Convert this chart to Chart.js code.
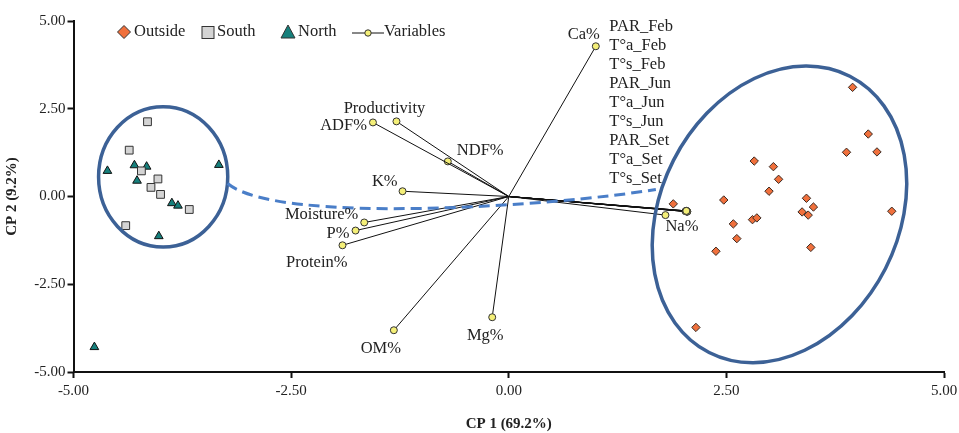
<!DOCTYPE html>
<html>
<head>
<meta charset="utf-8">
<script src="https://cdn.jsdelivr.net/npm/chart.js@4.4.1/dist/chart.umd.min.js"></script>
<style>
  html, body { margin: 0; padding: 0; background: #fff; }
  #wrap { width: 959px; height: 433px; }
</style>
</head>
<body>
<div id="wrap"><canvas id="pca"></canvas></div>
<script>
// scores (CP 1, CP 2)
var outside_x = [3.95, 4.13, 3.88, 4.23, 2.82, 3.04, 3.10, 2.99, 3.42, 3.50, 3.37, 3.44, 4.40, 2.47, 2.58, 2.80, 2.85, 2.62, 2.38, 3.47, 2.15, 1.89];
var outside_y = [3.11, 1.78, 1.26, 1.27, 1.01, 0.85, 0.49, 0.15, -0.05, -0.30, -0.44, -0.53, -0.42, -0.10, -0.78, -0.66, -0.61, -1.20, -1.56, -1.45, -3.73, -0.21];
var south_x = [-4.15, -4.36, -4.22, -4.03, -4.11, -4.00, -3.67, -4.40];
var south_y = [2.13, 1.32, 0.73, 0.50, 0.26, 0.06, -0.37, -0.83];
var north_x = [-4.61, -4.30, -4.16, -4.27, -3.33, -3.87, -3.80, -4.02, -4.76];
var north_y = [0.73, 0.89, 0.85, 0.45, 0.90, -0.19, -0.26, -1.13, -4.29];

// loadings
var var_names = ['Ca%', 'Productivity', 'ADF%', 'NDF%', 'K%', 'Moisture%', 'P%', 'Protein%', 'OM%', 'Mg%', 'Na%',
  'PAR_Feb', 'T°a_Feb', 'T°s_Feb', 'PAR_Jun', 'T°a_Jun', 'T°s_Jun', 'PAR_Set', 'T°a_Set', 'T°s_Set'];
var var_x = [1.00, -1.29, -1.56, -0.70, -1.22, -1.66, -1.76, -1.91, -1.32, -0.19, 1.80,
  2.04, 2.04, 2.05, 2.04, 2.03, 2.05, 2.04, 2.04, 2.05];
var var_y = [4.28, 2.14, 2.11, 1.00, 0.15, -0.74, -0.97, -1.39, -3.81, -3.44, -0.53,
  -0.41, -0.42, -0.43, -0.41, -0.42, -0.43, -0.42, -0.41, -0.43];

var legend_names = ['Outside', 'South', 'North', 'Variables'];
var tick_values = [-5, -2.5, 0, 2.5, 5];

var SERIF = "'Liberation Serif', 'DejaVu Serif', serif";

// label placement for loading names: [dx, dy, align] in px from the endpoint
var label_place = {
  'Ca%': [-12, -12, 'center'], 'Productivity': [-12, -13, 'center'], 'ADF%': [-6, 3, 'right'],
  'NDF%': [9, -11, 'left'], 'K%': [-5, -10, 'right'], 'Moisture%': [-6, -8, 'right'],
  'P%': [-6, 3, 'right'], 'Protein%': [5, 17, 'right'], 'OM%': [-13, 18, 'center'],
  'Mg%': [-7, 18, 'center'], 'Na%': [0, 12, 'left']
};
var climate_names = var_names.slice(11);

function pts(xs, ys) {
  return xs.map(function (v, i) { return {x: v, y: ys[i]}; });
}

var datasets = [];
// loading vectors: one short line per variable, origin to endpoint
for (var i = 0; i < var_names.length; i++) {
  datasets.push({
    label: var_names[i],
    data: [{x: 0, y: 0}, {x: var_x[i], y: var_y[i]}],
    showLine: true,
    borderColor: '#111',
    borderWidth: 1,
    pointRadius: [0, 3.5],
    pointBackgroundColor: '#f4ef78',
    pointBorderColor: '#333',
    pointBorderWidth: 1,
    order: 5
  });
}
datasets.push({
  label: 'Outside', data: pts(outside_x, outside_y), pointStyle: 'rectRot', pointRadius: 4.2,
  backgroundColor: '#f0703c', borderColor: '#3a2a22', borderWidth: 1, order: 1
});
datasets.push({
  label: 'South', data: pts(south_x, south_y), pointStyle: 'rect', pointRadius: 5.5,
  backgroundColor: '#d4d4d4', borderColor: '#333', borderWidth: 1, order: 1
});
datasets.push({
  label: 'North', data: pts(north_x, north_y), pointStyle: 'triangle', pointRadius: 5,
  backgroundColor: '#16807c', borderColor: '#111', borderWidth: 1, order: 1
});

// ellipses and dashed link
var deco = {
  id: 'deco',
  afterDatasetsDraw: function (chart) {
    var ctx = chart.ctx, sx = chart.scales.x, sy = chart.scales.y;
    ctx.save();
    ctx.strokeStyle = '#3c6196';
    ctx.lineWidth = 3.5;
    // left group (South + North)
    var cx = sx.getPixelForValue(-3.97), cy = sy.getPixelForValue(0.56);
    var rx = sx.getPixelForValue(-3.97 + 0.742) - cx, ry = cy - sy.getPixelForValue(0.56 + 2.0);
    ctx.beginPath();
    ctx.ellipse(cx, cy, rx, ry, 0, 0, Math.PI * 2);
    ctx.stroke();
    // right group (Outside)
    ctx.beginPath();
    ctx.ellipse(sx.getPixelForValue(3.11), sy.getPixelForValue(-0.51), 155, 119, -63 * Math.PI / 180, 0, Math.PI * 2);
    ctx.stroke();
    // dashed link
    ctx.strokeStyle = '#4a7ec8';
    ctx.lineWidth = 3;
    ctx.setLineDash([11, 6]);
    ctx.beginPath();
    ctx.moveTo(sx.getPixelForValue(-3.23), sy.getPixelForValue(0.37));
    ctx.bezierCurveTo(sx.getPixelForValue(-2.64), sy.getPixelForValue(-0.83),
      sx.getPixelForValue(0.56), sy.getPixelForValue(-0.26),
      sx.getPixelForValue(1.69), sy.getPixelForValue(0.20));
    ctx.stroke();
    ctx.setLineDash([]);

    // loading labels
    ctx.fillStyle = '#222';
    ctx.font = '16.5px ' + SERIF;
    ctx.textBaseline = 'middle';
    for (var i = 0; i < var_names.length; i++) {
      var p = label_place[var_names[i]];
      if (!p) continue;
      ctx.textAlign = p[2];
      ctx.fillText(var_names[i], sx.getPixelForValue(var_x[i]) + p[0], sy.getPixelForValue(var_y[i]) + p[1]);
    }
    // climate variables share one endpoint, listed as a column
    var ex = sx.getPixelForValue(var_x[11]), ey = sy.getPixelForValue(var_y[11]);
    ctx.textAlign = 'left';
    climate_names.forEach(function (n, k) {
      ctx.fillText(n, ex - 77, ey - 184 + k * 19);
    });

    // legend
    var lx = 124, ly = 32;
    ctx.lineWidth = 1;
    ctx.strokeStyle = '#333';
    // diamond
    ctx.fillStyle = '#f0703c';
    ctx.beginPath();
    ctx.moveTo(lx, ly - 6.5); ctx.lineTo(lx + 6.5, ly); ctx.lineTo(lx, ly + 6.5); ctx.lineTo(lx - 6.5, ly); ctx.closePath();
    ctx.fill(); ctx.stroke();
    // square
    ctx.fillStyle = '#d4d4d4';
    ctx.fillRect(202, ly - 5.5, 12, 12); ctx.strokeRect(202, ly - 5.5, 12, 12);
    // triangle
    ctx.fillStyle = '#16807c';
    ctx.beginPath();
    ctx.moveTo(288, ly - 7); ctx.lineTo(295, ly + 6); ctx.lineTo(281, ly + 6); ctx.closePath();
    ctx.fill(); ctx.stroke();
    // line + circle
    ctx.strokeStyle = '#111';
    ctx.beginPath(); ctx.moveTo(352, ly + 1); ctx.lineTo(384, ly + 1); ctx.stroke();
    ctx.fillStyle = '#f4ef78';
    ctx.beginPath(); ctx.arc(368, ly + 1, 3.2, 0, Math.PI * 2); ctx.fill();
    ctx.strokeStyle = '#333'; ctx.stroke();
    ctx.fillStyle = '#222';
    ctx.textAlign = 'left';
    var lpos = [134, 217, 298, 384];
    legend_names.forEach(function (n, k) { ctx.fillText(n, lpos[k], ly); });
    ctx.restore();
  }
};

var axisCommon = {
  type: 'linear',
  min: -5,
  max: 5,
  afterBuildTicks: function (axis) { axis.ticks = tick_values.map(function (v) { return {value: v}; }); },
  grid: { drawOnChartArea: false, drawTicks: true, tickLength: 6, tickWidth: 2, tickColor: '#111' },
  border: { display: true, color: '#111', width: 2 },
  ticks: {
    color: '#222',
    font: { family: SERIF, size: 15 },
    callback: function (v) { return Number(v).toFixed(2); }
  },
  title: { display: true, color: '#222', font: { family: SERIF, size: 15, weight: 'bold' } }
};

var xAxis = Object.assign({}, axisCommon, {
  position: 'bottom',
  ticks: Object.assign({}, axisCommon.ticks, { padding: 4, maxRotation: 0 }),
  title: Object.assign({}, axisCommon.title, { text: 'CP 1 (69.2%)', padding: { top: 0, bottom: 0 } }),
  afterFit: function (s) { s.height = 61; s.paddingLeft = 0; s.paddingRight = 0; }
});
var yAxis = Object.assign({}, axisCommon, {
  position: 'left',
  ticks: Object.assign({}, axisCommon.ticks, { padding: 2 }),
  title: Object.assign({}, axisCommon.title, { text: 'CP 2 (9.2%)', padding: { top: 3, bottom: 0 } }),
  afterFit: function (s) { s.width = 73.5; s.paddingTop = 0; s.paddingBottom = 0; }
});

var chart = new Chart(document.getElementById('pca'), {
  type: 'scatter',
  data: { datasets: datasets },
  options: {
    responsive: true,
    maintainAspectRatio: false,
    animation: false,
    layout: { padding: { top: 21, right: 15, bottom: 0, left: 0 } },
    plugins: { legend: { display: false }, tooltip: { enabled: false } },
    scales: { x: xAxis, y: yAxis }
  },
  plugins: [deco]
});
</script>
</body>
</html>
